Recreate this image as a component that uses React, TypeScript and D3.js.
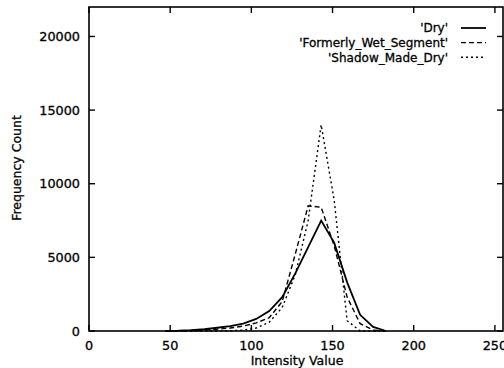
import { useEffect, useRef } from 'react';
import * as d3 from 'd3';

// histogram bins (intensity) and counts
const bins = [47, 55, 63, 71, 79, 87, 95, 103, 111, 119, 127, 135, 143, 151, 159, 167, 175, 183];
const dry = [0, 20, 60, 120, 220, 330, 500, 820, 1350, 2300, 3900, 5700, 7500, 6000, 3300, 1100, 280, 0];
const formerlyWet = [0, 10, 30, 60, 120, 200, 330, 550, 900, 2000, 5200, 8500, 8400, 5800, 2300, 500, 60, 0];
const shadowDry = [0, 0, 0, 0, 5, 20, 60, 200, 600, 1600, 3800, 7500, 14000, 8900, 700, 0, 0, 0];

const seriesNames = ["'Dry'", "'Formerly_Wet_Segment'", "'Shadow_Made_Dry'"];
const xTicks = [0, 50, 100, 150, 200, 250];
const yTicks = [0, 5000, 10000, 15000, 20000];

export default function App() {
  const svgRef = useRef<SVGSVGElement>(null);

  useEffect(() => {
    if (!svgRef.current) return;
    const svg = d3.select(svgRef.current);
    svg.selectAll('*').remove();

    const width = 504;
    const height = 368;
    const margin = { top: 7, right: 1, bottom: 37, left: 89 };
    const innerWidth = width - margin.left - margin.right;
    const innerHeight = height - margin.top - margin.bottom;
    const font = '"DejaVu Sans", sans-serif';

    const x = d3.scaleLinear().domain([0, 255]).range([0, innerWidth]);
    const y = d3.scaleLinear().domain([0, 22000]).range([innerHeight, 0]);

    const g = svg.append('g').attr('transform', `translate(${margin.left},${margin.top})`);

    // helper for the slightly heavy scanned-looking text
    const label = (sel: any, size: number) =>
      sel.attr('font-family', font)
        .attr('font-size', size)
        .attr('fill', '#000')
        .attr('stroke', '#000')
        .attr('stroke-width', 0.3);

    // frame
    g.append('rect')
      .attr('width', innerWidth)
      .attr('height', innerHeight)
      .attr('fill', 'none')
      .attr('stroke', '#000')
      .attr('stroke-width', 1.6);

    // inward ticks on all four sides
    const tl = 6;
    xTicks.forEach(t => {
      g.append('line').attr('x1', x(t)).attr('x2', x(t)).attr('y1', innerHeight).attr('y2', innerHeight - tl)
        .attr('stroke', '#000').attr('stroke-width', 1.4);
      g.append('line').attr('x1', x(t)).attr('x2', x(t)).attr('y1', 0).attr('y2', tl)
        .attr('stroke', '#000').attr('stroke-width', 1.4);
      label(g.append('text')
        .attr('x', x(t)).attr('y', innerHeight + 19)
        .attr('text-anchor', 'middle'), 12.8)
        .text(t);
    });
    yTicks.forEach(t => {
      g.append('line').attr('x1', 0).attr('x2', tl).attr('y1', y(t)).attr('y2', y(t))
        .attr('stroke', '#000').attr('stroke-width', 1.4);
      g.append('line').attr('x1', innerWidth).attr('x2', innerWidth - tl).attr('y1', y(t)).attr('y2', y(t))
        .attr('stroke', '#000').attr('stroke-width', 1.4);
      label(g.append('text')
        .attr('x', -9).attr('y', y(t))
        .attr('dy', '0.36em')
        .attr('text-anchor', 'end'), 12.8)
        .text(t);
    });

    // axis titles
    label(svg.append('text')
      .attr('x', 297).attr('y', 365)
      .attr('text-anchor', 'middle'), 12.5)
      .text('Intensity Value');
    label(svg.append('text')
      .attr('transform', 'translate(21,168) rotate(-90)')
      .attr('text-anchor', 'middle'), 12.5)
      .text('Frequency Count');

    const line = d3.line<number>()
      .x((_, i) => x(bins[i]))
      .y(d => y(d));

    const dashes = [null, '5,3', '2,3'];
    const allSeries = [dry, formerlyWet, shadowDry];

    allSeries.forEach((s, i) => {
      g.append('path')
        .datum(s)
        .attr('d', line)
        .attr('fill', 'none')
        .attr('stroke', '#000')
        .attr('stroke-width', i === 0 ? 1.8 : 1.4)
        .attr('stroke-dasharray', dashes[i]);
    });

    // legend
    seriesNames.forEach((name, i) => {
      const ly = 28 + i * 14.6 - margin.top;
      label(g.append('text')
        .attr('x', 448 - margin.left).attr('y', ly)
        .attr('dy', '0.36em')
        .attr('text-anchor', 'end'), 12)
        .text(name);
      g.append('line')
        .attr('x1', 461 - margin.left).attr('x2', 486 - margin.left)
        .attr('y1', ly).attr('y2', ly)
        .attr('stroke', '#000')
        .attr('stroke-width', i === 0 ? 1.8 : 1.4)
        .attr('stroke-dasharray', dashes[i]);
    });
  }, []);

  return (
    <svg
      ref={svgRef}
      width={504}
      height={368}
      style={{ position: 'absolute', left: 0, top: 0, background: '#fff' }}
    />
  );
}
